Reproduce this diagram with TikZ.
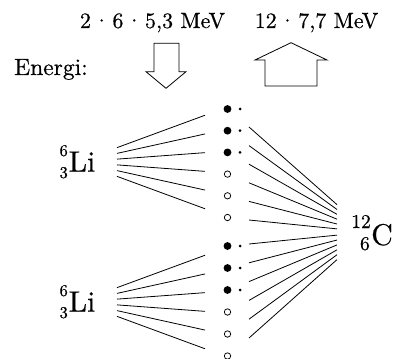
\documentclass[tikz,border=0pt]{standalone}
\usepackage{fontspec}
\setmainfont{lmroman10-regular.otf}[FakeBold=0.5]
\usetikzlibrary{calc}
\newcommand{\mydot}{\hspace{0.1em}·\hspace{0.1em}}
\begin{document}
\begin{tikzpicture}[x=1pt,y=-1pt,
  txt/.style={inner sep=0pt,anchor=base,font=\fontsize{22}{24}\selectfont},
  big/.style={inner sep=0pt,font=\fontsize{29.5}{30}\selectfont},
  scr/.style={inner sep=0pt,anchor=base east,font=\fontsize{16.5}{18}\selectfont},
  cscr/.style={inner sep=0pt,anchor=base east,font=\fontsize{19.5}{22}\selectfont},
  fan/.style={line width=0.8pt},
  arr/.style={line width=0.8pt,line join=miter},
  full/.style={circle,fill=black,inner sep=0pt,minimum size=7.8pt},
  small/.style={circle,fill=black,inner sep=0pt,minimum size=3pt},
  hollow/.style={circle,draw=black,line width=0.75pt,inner sep=0pt,minimum size=6.4pt}]
\useasboundingbox (0,0) rectangle (395,358);

% texts
\node[txt] (e1) at (152.5,28) {2\mydot 6\mydot 5,3 MeV};
\node[txt] (e2) at (316.5,28) {12\mydot 7,7 MeV};
\node[txt,anchor=base west,font=\fontsize{23.5}{24}\selectfont] (en) at (14,75) {Energi:};

% arrows
\draw[arr] (154,43.3) -- (179,43.3) -- (179,71.7) -- (186,71.7) -- (166,88.3)
  -- (146,71.7) -- (154,71.7) -- cycle;
\draw[arr] (265,86) -- (317,86) -- (317,60) -- (327,60) -- (291,42.7)
  -- (255,60) -- (265,60) -- cycle;

% Li labels
\node[big,anchor=base west] (li1) at (68.5,171.7) {Li};
\node[scr] (li1a) at (68,156) {6};
\node[scr] (li1b) at (68,178) {3};
\node[big,anchor=base west] (li2) at (68.5,311.7) {Li};
\node[scr] (li2a) at (68,296) {6};
\node[scr] (li2b) at (68,318) {3};

% C label
\node[inner sep=0pt,anchor=base west,font=\fontsize{30}{30}\selectfont] (c) at (371,245) {C};
\node[cscr] (c12) at (371,228) {12};
\node[cscr] (c6) at (370,250) {6};

% focal points
\coordinate (lf1) at (78,162);
\coordinate (lf2) at (78,302);
\coordinate (cf) at (368,232);

% particles
\foreach \y [count=\i] in {109,130.7,152.4} {
  \node[full] (pt\i) at (227.5,\y) {};
  \node[small] (st\i) at (240,\y) {};
}
\foreach \y [count=\i from 4] in {174.1,195.8,217.5} {
  \node[hollow] (pt\i) at (227.5,\y) {};
}
\foreach \y [count=\i] in {246,268,290} {
  \node[full] (pb\i) at (227.5,\y) {};
  \node[small] (sb\i) at (240,\y) {};
}
\foreach \y [count=\i from 4] in {312,334,356} {
  \node[hollow] (pb\i) at (227.5,\y) {};
}

% left fans
\foreach \k in {0,...,5} {
  \coordinate (ea) at (205,{162+(\k-2.5)*18.7});
  \draw[fan] ($(lf1)!0.307!(ea)$) -- (ea);
  \coordinate (eb) at (205,{302+(\k-2.5)*18.7});
  \draw[fan] ($(lf2)!0.307!(eb)$) -- (eb);
}

% right fan
\foreach \k in {0,...,5} {
  \coordinate (sa) at (249,{127+\k*18.6});
  \draw[fan] (sa) -- ($(sa)!0.7395!(cf)$);
  \coordinate (sb) at (249,{244+\k*18.8});
  \draw[fan] (sb) -- ($(sb)!0.7395!(cf)$);
}
\end{tikzpicture}
\end{document}
